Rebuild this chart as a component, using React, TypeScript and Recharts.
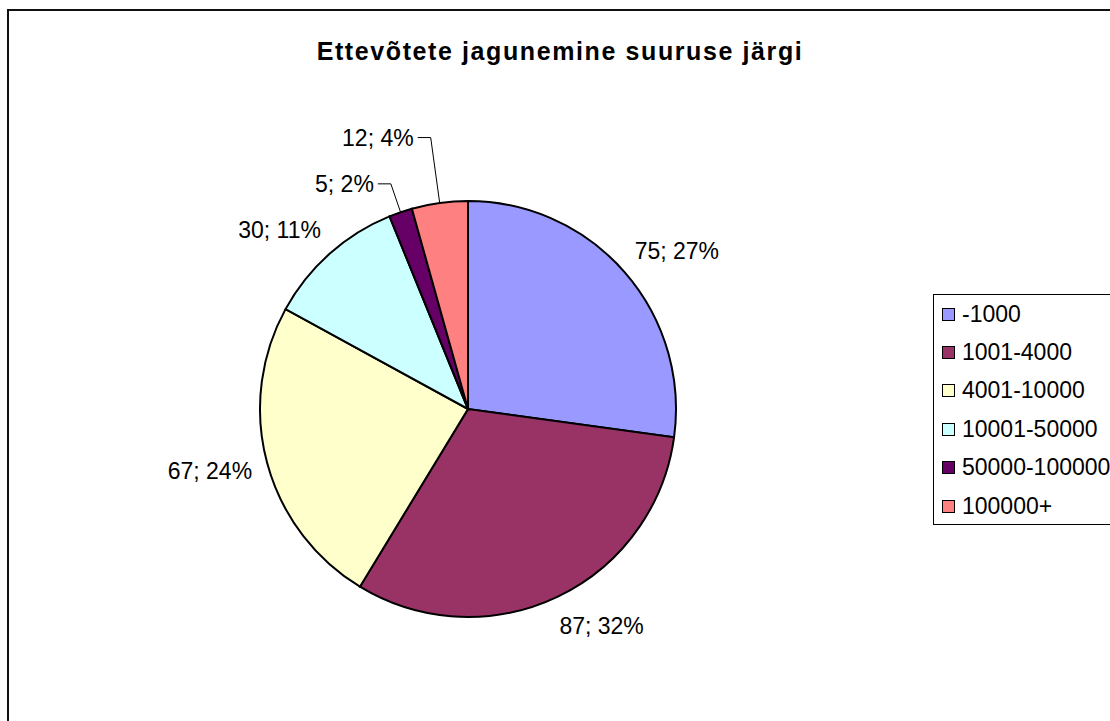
import { PieChart, Pie, Cell, Legend } from "recharts"

const title = "Ettevõtete jagunemine suuruse järgi"
const categories = ["-1000", "1001-4000", "4001-10000", "10001-50000", "50000-100000", "100000+"]
const counts = [75, 87, 67, 30, 5, 12]
const colors = ["#9999FF", "#993366", "#FFFFCC", "#CCFFFF", "#660066", "#FF8080"]

// thin slices get a leader line (extra length outside the pie, px)
const leaderLength: { [name: string]: number } = { "50000-100000": 30, "100000+": 66 }

const FONT = '"Liberation Sans", Arial, sans-serif'
const RAD = Math.PI / 180

const chartData = categories.map((name, i) => ({ name, value: counts[i] }))

function renderLabel(props: any) {
  const { cx, cy, midAngle, outerRadius, value, percent, name } = props
  const cos = Math.cos(-midAngle * RAD)
  const sin = Math.sin(-midAngle * RAD)
  const text = `${value}; ${Math.round(percent * 100)}%`
  const lead = leaderLength[name]

  if (lead) {
    const x0 = cx + outerRadius * cos
    const y0 = cy + outerRadius * sin
    const x1 = cx + (outerRadius + lead) * cos
    const y1 = cy + (outerRadius + lead) * sin
    const dir = cos < 0 ? -1 : 1
    const x2 = x1 + dir * 13
    return (
      <g key={name}>
        <polyline points={`${x0},${y0} ${x1},${y1} ${x2},${y1}`} fill="none" stroke="#000" strokeWidth={1} />
        <text x={x2 + dir * 4} y={y1 + 8} textAnchor={dir < 0 ? "end" : "start"} fontFamily={FONT} fontSize={23} fill="#000">
          {text}
        </text>
      </g>
    )
  }

  // plain label: centre pushed out along the mid angle, plus a sideways shift
  const x = cx + (outerRadius + 24) * cos + Math.sign(cos) * 34
  const y = cy + (outerRadius + 32) * sin
  return (
    <text key={name} x={x} y={y + 8} textAnchor="middle" fontFamily={FONT} fontSize={23} fill="#000">
      {text}
    </text>
  )
}

function LegendBox() {
  return (
    <div
      style={{
        width: 200,
        height: 231,
        boxSizing: "border-box",
        border: "1.5px solid #000",
        background: "#fff",
        fontFamily: FONT,
        fontSize: 23,
        color: "#000",
      }}
    >
      {categories.map((name, i) => (
        <div key={name} style={{ display: "flex", alignItems: "center", height: 38.4, whiteSpace: "nowrap" }}>
          <span
            style={{
              display: "inline-block",
              width: 13,
              height: 13,
              boxSizing: "border-box",
              border: "1.5px solid #000",
              background: colors[i],
              marginLeft: 8,
              marginRight: 7,
            }}
          />
          <span>{name}</span>
        </div>
      ))}
    </div>
  )
}

export default function App() {
  return (
    <div style={{ position: "absolute", left: 0, top: 0, width: 1110, height: 721, overflow: "hidden", background: "#fff" }}>
      <div
        style={{
          position: "absolute",
          left: 7,
          top: 9,
          width: 1200,
          height: 800,
          border: "2px solid #111",
        }}
      />
      <div
        style={{
          position: "absolute",
          left: 0,
          top: 39,
          width: 1120,
          textAlign: "center",
          fontFamily: FONT,
          fontSize: 25,
          fontWeight: "bold",
          letterSpacing: 1.6,
          lineHeight: "25px",
          color: "#000",
        }}
      >
        {title}
      </div>
      <div style={{ position: "absolute", left: 0, top: 0 }}>
        <PieChart width={1110} height={721} margin={{ top: 0, right: 0, bottom: 0, left: 0 }}>
          <Pie
            data={chartData}
            dataKey="value"
            nameKey="name"
            cx={468}
            cy={409}
            outerRadius={208}
            startAngle={90}
            endAngle={-270}
            stroke="#000"
            strokeWidth={2}
            labelLine={false}
            label={renderLabel}
            isAnimationActive={false}
          >
            {chartData.map((d, i) => (
              <Cell key={d.name} fill={colors[i]} />
            ))}
          </Pie>
          <Legend
            layout="vertical"
            align="right"
            verticalAlign="middle"
            content={() => <LegendBox />}
            wrapperStyle={{ left: 933, top: 294, width: 200, height: 231 }}
          />
        </PieChart>
      </div>
    </div>
  )
}
